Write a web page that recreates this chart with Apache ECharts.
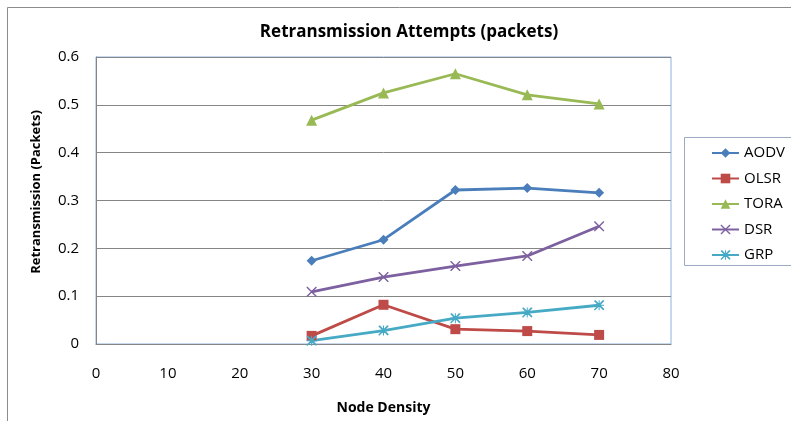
<!DOCTYPE html>
<html><head><meta charset="utf-8">
<script src="https://cdn.jsdelivr.net/npm/echarts@6/dist/echarts.min.js"></script>
<style>html,body{margin:0;padding:0;background:#fff}#c{width:791px;height:421px}</style>
</head><body><div id="c"></div>
<script>
const nodeDensity = [30, 40, 50, 60, 70];
const aodv = [0.174, 0.218, 0.322, 0.326, 0.316];
const olsr = [0.017, 0.082, 0.031, 0.027, 0.019];
const tora = [0.468, 0.525, 0.565, 0.521, 0.502];
const dsr  = [0.109, 0.140, 0.163, 0.184, 0.246];
const grp  = [0.007, 0.028, 0.054, 0.066, 0.081];
const seriesNames = ['AODV', 'OLSR', 'TORA', 'DSR', 'GRP'];
const xTicks = [0, 10, 20, 30, 40, 50, 60, 70, 80];
const yTicks = [0, 0.1, 0.2, 0.3, 0.4, 0.5, 0.6];
const yAxisTitle = 'Retransmission (Packets)';

const colors = ['#4a7ebb', '#be4b48', '#98b954', '#7d60a0', '#46aac5'];
const symbols = ['diamond', 'rect', 'triangle', 'path://M0,0 L1,0 L10,9 L10,10 L9,10 L0,1 Z M9,0 L10,0 L10,1 L1,10 L0,10 L0,9 Z',
  'path://M4.5,0 L5.5,0 L5.5,4.5 L10,4.5 L10,5.5 L5.5,5.5 L5.5,10 L4.5,10 L4.5,5.5 L0,5.5 L0,4.5 L4.5,4.5 Z M0.5,0 L1.5,0 L10,8.5 L10,9.5 L9,10 L0,1 Z M8.5,0 L10,0 L10,1 L1,10 L0,10 L0,9 Z'];
const symSizes = [10, 10, 11, 10, 10];
const allData = [aodv, olsr, tora, dsr, grp];

const font = '"Open Sans", "Liberation Sans", sans-serif';
const chart = echarts.init(document.getElementById('c'));
chart.setOption({
  animation: false,
  backgroundColor: '#fff',
  graphic: [{
    type: 'rect', shape: {x: 7.5, y: 7.5, width: 800, height: 500},
    style: {fill: 'none', stroke: '#8c8c8c', lineWidth: 1}, silent: true, z: -1
  }, {
    type: 'rect', shape: {x: 684.5, y: 137.5, width: 120, height: 128},
    style: {fill: 'none', stroke: '#9aaac4', lineWidth: 1}, silent: true
  }, {
    type: 'text', x: 36, y: 192, rotation: Math.PI / 2,
    style: {text: yAxisTitle, fontFamily: font, fontSize: 13, fontWeight: 'bold', fill: '#000',
      align: 'center', verticalAlign: 'middle'}, silent: true
  }],
  title: {
    text: 'Retransmission Attempts (packets)',
    left: 404, top: 19, textAlign: 'center',
    textStyle: {fontFamily: font, fontSize: 17, fontWeight: 'bold', color: '#000'}
  },
  legend: {
    orient: 'vertical', left: 706, top: 138, itemGap: 5.5,
    itemWidth: 27, itemHeight: 12,
    data: seriesNames,
    textStyle: {fontFamily: font, fontSize: 15, color: '#000', lineHeight: 20}
  },
  grid: {left: 96, right: 120, top: 57, bottom: 77, show: true, borderColor: '#8eb1de', borderWidth: 1},
  xAxis: {
    type: 'value', min: 0, max: 80, interval: 10,
    name: 'Node Density', nameLocation: 'middle', nameGap: 57,
    nameTextStyle: {fontFamily: font, fontSize: 14, fontWeight: 'bold', color: '#000'},
    axisLine: {show: true, lineStyle: {color: '#868686'}},
    axisTick: {show: false},
    splitLine: {show: false},
    axisLabel: {fontFamily: font, fontSize: 15, color: '#000', margin: 22,
      formatter: v => xTicks.includes(v) ? String(v) : ''}
  },
  yAxis: {
    type: 'value', min: 0, max: 0.6, interval: 0.1,
    axisLine: {show: true, lineStyle: {color: '#868686'}},
    axisTick: {show: false},
    splitLine: {show: true, lineStyle: {color: '#868686'}},
    axisLabel: {fontFamily: font, fontSize: 15, color: '#000', margin: 17,
      formatter: v => { const t = yTicks.find(k => Math.abs(k - v) < 1e-9); return t === undefined ? '' : String(t); }}
  },
  series: seriesNames.map((n, i) => ({
    name: n, type: 'line',
    data: nodeDensity.map((x, j) => [x, allData[i][j]]),
    symbol: symbols[i], symbolSize: symSizes[i],
    showAllSymbol: true,
    lineStyle: {color: colors[i], width: 2.8},
    itemStyle: {color: colors[i], borderWidth: 0}
  }))
});
</script></body></html>
